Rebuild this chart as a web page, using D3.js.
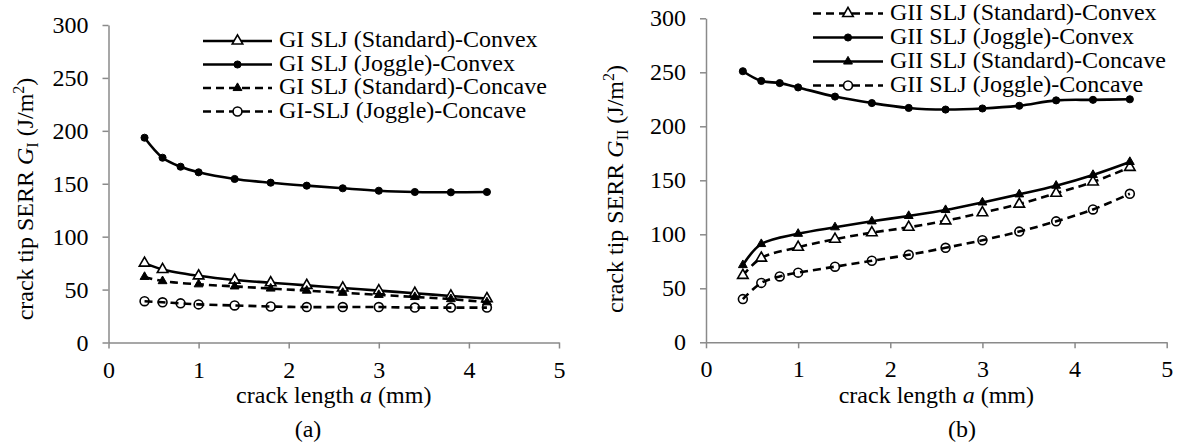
<!DOCTYPE html>
<html>
<head>
<meta charset="utf-8">
<script src="https://cdn.jsdelivr.net/npm/d3@7"></script>
<style>
  html, body { margin: 0; padding: 0; background: #fff; }
  svg { display: block; }
  text { font-family: "Liberation Serif", "Times New Roman", serif; fill: #000; }
</style>
</head>
<body>
<svg id="chart" width="1178" height="448"></svg>
<script>
// ---------- data ----------
const xTicks = [0, 1, 2, 3, 4, 5];
const yTicks = [0, 50, 100, 150, 200, 250, 300];

// panel (a)
const aStd = [0.4, 0.6, 1.0, 1.4, 1.8, 2.2, 2.6, 3.0, 3.4, 3.8, 4.2];
const aJog = [0.4, 0.6, 0.8, 1.0, 1.4, 1.8, 2.2, 2.6, 3.0, 3.4, 3.8, 4.2];
const gIStdConvex  = [75, 69, 63, 59, 56.5, 54, 51.5, 49, 46.5, 44, 41.5];
const gIJogConvex  = [193.5, 174.6, 166.1, 160.8, 154.5, 151, 148.2, 145.7, 143.4, 142.2, 141.9, 142.2];
const gIStdConcave = [62, 58, 55, 53, 51, 49, 47, 45, 43, 41, 38];
const gIJogConcave = [39, 38, 37, 36, 35, 34, 33.5, 33.5, 33.5, 33, 33, 33];

// panel (b)
const bStd = [0.4, 0.6, 1.0, 1.4, 1.8, 2.2, 2.6, 3.0, 3.4, 3.8, 4.2, 4.6];
const bJog = [0.4, 0.6, 0.8, 1.0, 1.4, 1.8, 2.2, 2.6, 3.0, 3.4, 3.8, 4.2, 4.6];
const gIIStdConvex  = [62, 78, 88, 95.5, 101.5, 106.5, 112.5, 120, 128, 138, 148.5, 162];
const gIIJogConvex  = [251, 242, 240, 236, 227.5, 221.5, 217, 215.5, 216.5, 219, 224, 224.5, 225];
const gIIStdConcave = [71.5, 91, 100.5, 106.5, 112, 117, 122.5, 129.5, 137, 145, 155, 167];
const gIIJogConcave = [40, 55, 61, 64.5, 70, 75.5, 81, 87.5, 94.5, 102.5, 112, 123, 137.5];

const namesA = ["GI SLJ (Standard)-Convex", "GI SLJ (Joggle)-Convex", "GI SLJ (Standard)-Concave", "GI-SLJ (Joggle)-Concave"];
const namesB = ["GII SLJ (Standard)-Convex", "GII SLJ (Joggle)-Convex", "GII SLJ (Standard)-Concave", "GII SLJ (Joggle)-Concave"];

// ---------- drawing ----------
const svg = d3.select("#chart");
const AXIS = "#8a8a8a";
const FS = 24;

const markerDefs = {
  openTri:   { type: d3.symbolTriangle, size: 48, fill: "#fff", stroke: "#000", sw: 1.6 },
  fillTri:   { type: d3.symbolTriangle, size: 34, fill: "#000", stroke: "#000", sw: 1 },
  dot:       { type: d3.symbolCircle,   size: 40, fill: "#000", stroke: "#000", sw: 1 },
  openCirc:  { type: d3.symbolCircle,   size: 62, fill: "none", stroke: "#000", sw: 1.6 }
};

function drawPanel(cfg) {
  const x = d3.scaleLinear().domain([0, 5]).range(cfg.xr);
  const y = d3.scaleLinear().domain([0, 300]).range(cfg.yr);
  const g = svg.append("g");

  const ya = g.append("g").attr("transform", `translate(${cfg.xr[0]},0)`)
    .call(d3.axisLeft(y).tickValues(yTicks).tickFormat(d3.format("d")).tickSize(6).tickSizeOuter(0).tickPadding(14));
  const xa = g.append("g").attr("transform", `translate(0,${cfg.yr[0]})`)
    .call(d3.axisBottom(x).tickValues(xTicks).tickFormat(d3.format("d")).tickSize(6).tickSizeOuter(0).tickPadding(12));
  [ya, xa].forEach(a => {
    a.attr("font-family", null).attr("font-size", null);
    a.select(".domain").attr("stroke", AXIS).attr("stroke-width", 1.5);
    a.selectAll(".tick line").attr("stroke", AXIS).attr("stroke-width", 1.5);
    a.selectAll(".tick text").attr("font-size", FS).attr("fill", "#000");
  });

  const line = d3.line().x(d => x(d[0])).y(d => y(d[1])).curve(d3.curveCatmullRom.alpha(0.5));

  cfg.series.forEach(s => {
    const pts = s.xs.map((v, i) => [v, s.ys[i]]);
    g.append("path").datum(pts).attr("d", line)
      .attr("fill", "none").attr("stroke", "#000").attr("stroke-width", 2.6)
      .attr("stroke-dasharray", s.dash ? "8,5" : null);
    const m = markerDefs[s.marker];
    g.selectAll(null).data(pts).enter().append("path")
      .attr("transform", d => `translate(${x(d[0])},${y(d[1])})`)
      .attr("d", d3.symbol().type(m.type).size(m.size))
      .attr("fill", m.fill).attr("stroke", m.stroke).attr("stroke-width", m.sw);
  });

  // legend
  cfg.series.forEach((s, i) => {
    const by = cfg.leg.y0 + i * cfg.leg.dy;
    const ly = by - 6;
    g.append("line").attr("x1", cfg.leg.x1).attr("x2", cfg.leg.x2).attr("y1", ly).attr("y2", ly)
      .attr("stroke", "#000").attr("stroke-width", 2.6).attr("stroke-dasharray", s.dash ? "8,5" : null);
    const m = markerDefs[s.marker];
    g.append("path").attr("transform", `translate(${(cfg.leg.x1 + cfg.leg.x2) / 2},${ly})`)
      .attr("d", d3.symbol().type(m.type).size(m.size))
      .attr("fill", m.fill === "none" ? "#fff" : m.fill).attr("stroke", m.stroke).attr("stroke-width", m.sw);
    g.append("text").attr("x", cfg.leg.tx).attr("y", by).attr("font-size", FS).text(s.name);
  });

  // x title
  const xt = g.append("text").attr("x", (cfg.xr[0] + cfg.xr[1]) / 2).attr("y", 403)
    .attr("text-anchor", "middle").attr("font-size", FS);
  xt.append("tspan").text("crack length ");
  xt.append("tspan").attr("font-style", "italic").text("a");
  xt.append("tspan").text(" (mm)");

  // y title
  const yt = g.append("text").attr("transform", `translate(${cfg.ytx},${cfg.yty}) rotate(-90)`)
    .attr("text-anchor", "middle").attr("font-size", FS);
  yt.append("tspan").text("crack tip SERR ");
  yt.append("tspan").attr("font-style", "italic").text("G");
  yt.append("tspan").attr("font-size", 16).attr("dy", 5).text(cfg.sub);
  yt.append("tspan").attr("dy", -5).text(" (J/m");
  yt.append("tspan").attr("font-size", 16).attr("dy", -9).text("2");
  yt.append("tspan").attr("dy", 9).text(")");

  // caption
  g.append("text").attr("x", cfg.capx).attr("y", 437).attr("text-anchor", "middle")
    .attr("font-size", FS).text(cfg.cap);
}

drawPanel({
  xr: [108.5, 559], yr: [342.5, 25],
  series: [
    { name: namesA[0], xs: aStd, ys: gIStdConvex,  dash: false, marker: "openTri" },
    { name: namesA[1], xs: aJog, ys: gIJogConvex,  dash: false, marker: "dot" },
    { name: namesA[2], xs: aStd, ys: gIStdConcave, dash: true,  marker: "fillTri" },
    { name: namesA[3], xs: aJog, ys: gIJogConcave, dash: true,  marker: "openCirc" }
  ],
  leg: { x1: 203, x2: 272, tx: 279, y0: 47, dy: 23.5 },
  ytx: 33, yty: 199, sub: "I", cap: "(a)", capx: 308
});

drawPanel({
  xr: [706, 1166.7], yr: [342.3, 18.3],
  series: [
    { name: namesB[0], xs: bStd, ys: gIIStdConvex,  dash: true,  marker: "openTri" },
    { name: namesB[1], xs: bJog, ys: gIIJogConvex,  dash: false, marker: "dot" },
    { name: namesB[2], xs: bStd, ys: gIIStdConcave, dash: false, marker: "fillTri" },
    { name: namesB[3], xs: bJog, ys: gIIJogConcave, dash: true,  marker: "openCirc" }
  ],
  leg: { x1: 813, x2: 883, tx: 890, y0: 19.5, dy: 24 },
  ytx: 623, yty: 189, sub: "II", cap: "(b)", capx: 962
});
</script>
</body>
</html>
